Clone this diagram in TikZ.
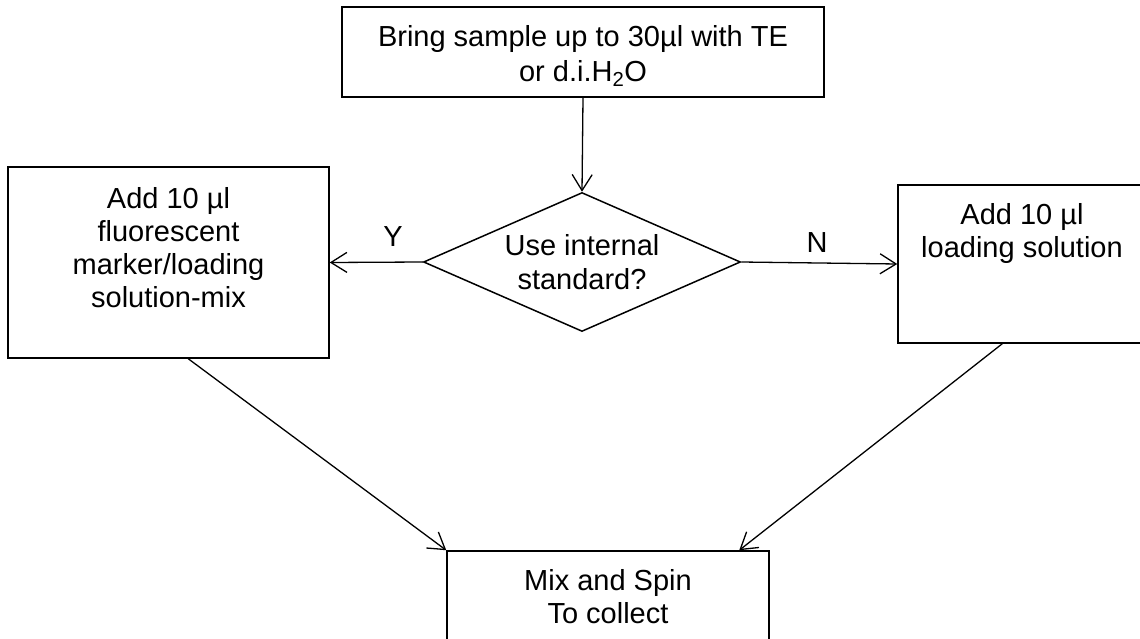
\documentclass[tikz,border=0pt]{standalone}
\usepackage{fontspec}
\setmainfont{Liberation Sans}
\usetikzlibrary{shapes.geometric,arrows.meta,calc}
\begin{document}
\begin{tikzpicture}[x=1pt,y=-1pt,
  box/.style={draw=black,line width=1.5pt,rectangle,inner sep=0pt},
  txt/.style={align=center,inner sep=0pt,font=\fontsize{29}{33}\selectfont},
  dec/.style={draw=black,line width=1.5pt,diamond,shape aspect=2.28,inner sep=0pt,minimum width=317pt,minimum height=139pt,align=center,font=\fontsize{29}{34}\selectfont},
  conn/.style={draw=black,line width=1.3pt,-{Straight Barb[length=16pt,width=20pt,line width=1.3pt]}},
  lab/.style={inner sep=0pt,font=\fontsize{29}{33}\selectfont}
]
\path[use as bounding box, clip] (0,0) rectangle (1140,639);

% top box
\node[box,minimum width=482pt,minimum height=90pt] (top) at (583,52) {};
\node[txt,font=\fontsize{29}{35}\selectfont] (toptxt) at (583,56) {Bring sample up to 30µl with TE\\or d.i.H\textsubscript{2}O};

% decision
\node[dec] (dia) at (582,262) {Use internal\\standard?};

% left box
\node[box,minimum width=321pt,minimum height=191pt] (lbox) at (168.5,262.5) {};
\node[txt] (lboxtxt) at (168.5,248) {Add 10 µl\\fluorescent\\marker/loading\\solution-mix};

% right box
\node[box,minimum width=248pt,minimum height=158pt] (rbox) at (1022,264) {};
\node[txt] (rboxtxt) at (1022,234) {Add 10 µl\\loading solution};

% bottom box
\node[box,minimum width=322pt,minimum height=92pt,txt] (bbox) at (608,597) {Mix and Spin\\To collect};

% connectors
\draw[conn] (top.south) -- (dia.north);
\draw[conn] (dia.west) -- (lbox.east);
\draw[conn] (dia.east) -- (rbox.west);
\coordinate (lstart) at ($(lbox.south west)+(181,0)$);
\coordinate (rstart) at ($(rbox.south west)+(105,0)$);
\coordinate (rend) at ($(bbox.north west)+(293,0)$);
\draw[conn] (lstart) -- (bbox.north west);
\draw[conn] (rstart) -- (rend);

% labels
\node[lab] (ylab) at (393,237) {Y};
\node[lab] (nlab) at (817,243) {N};
\end{tikzpicture}
\end{document}
